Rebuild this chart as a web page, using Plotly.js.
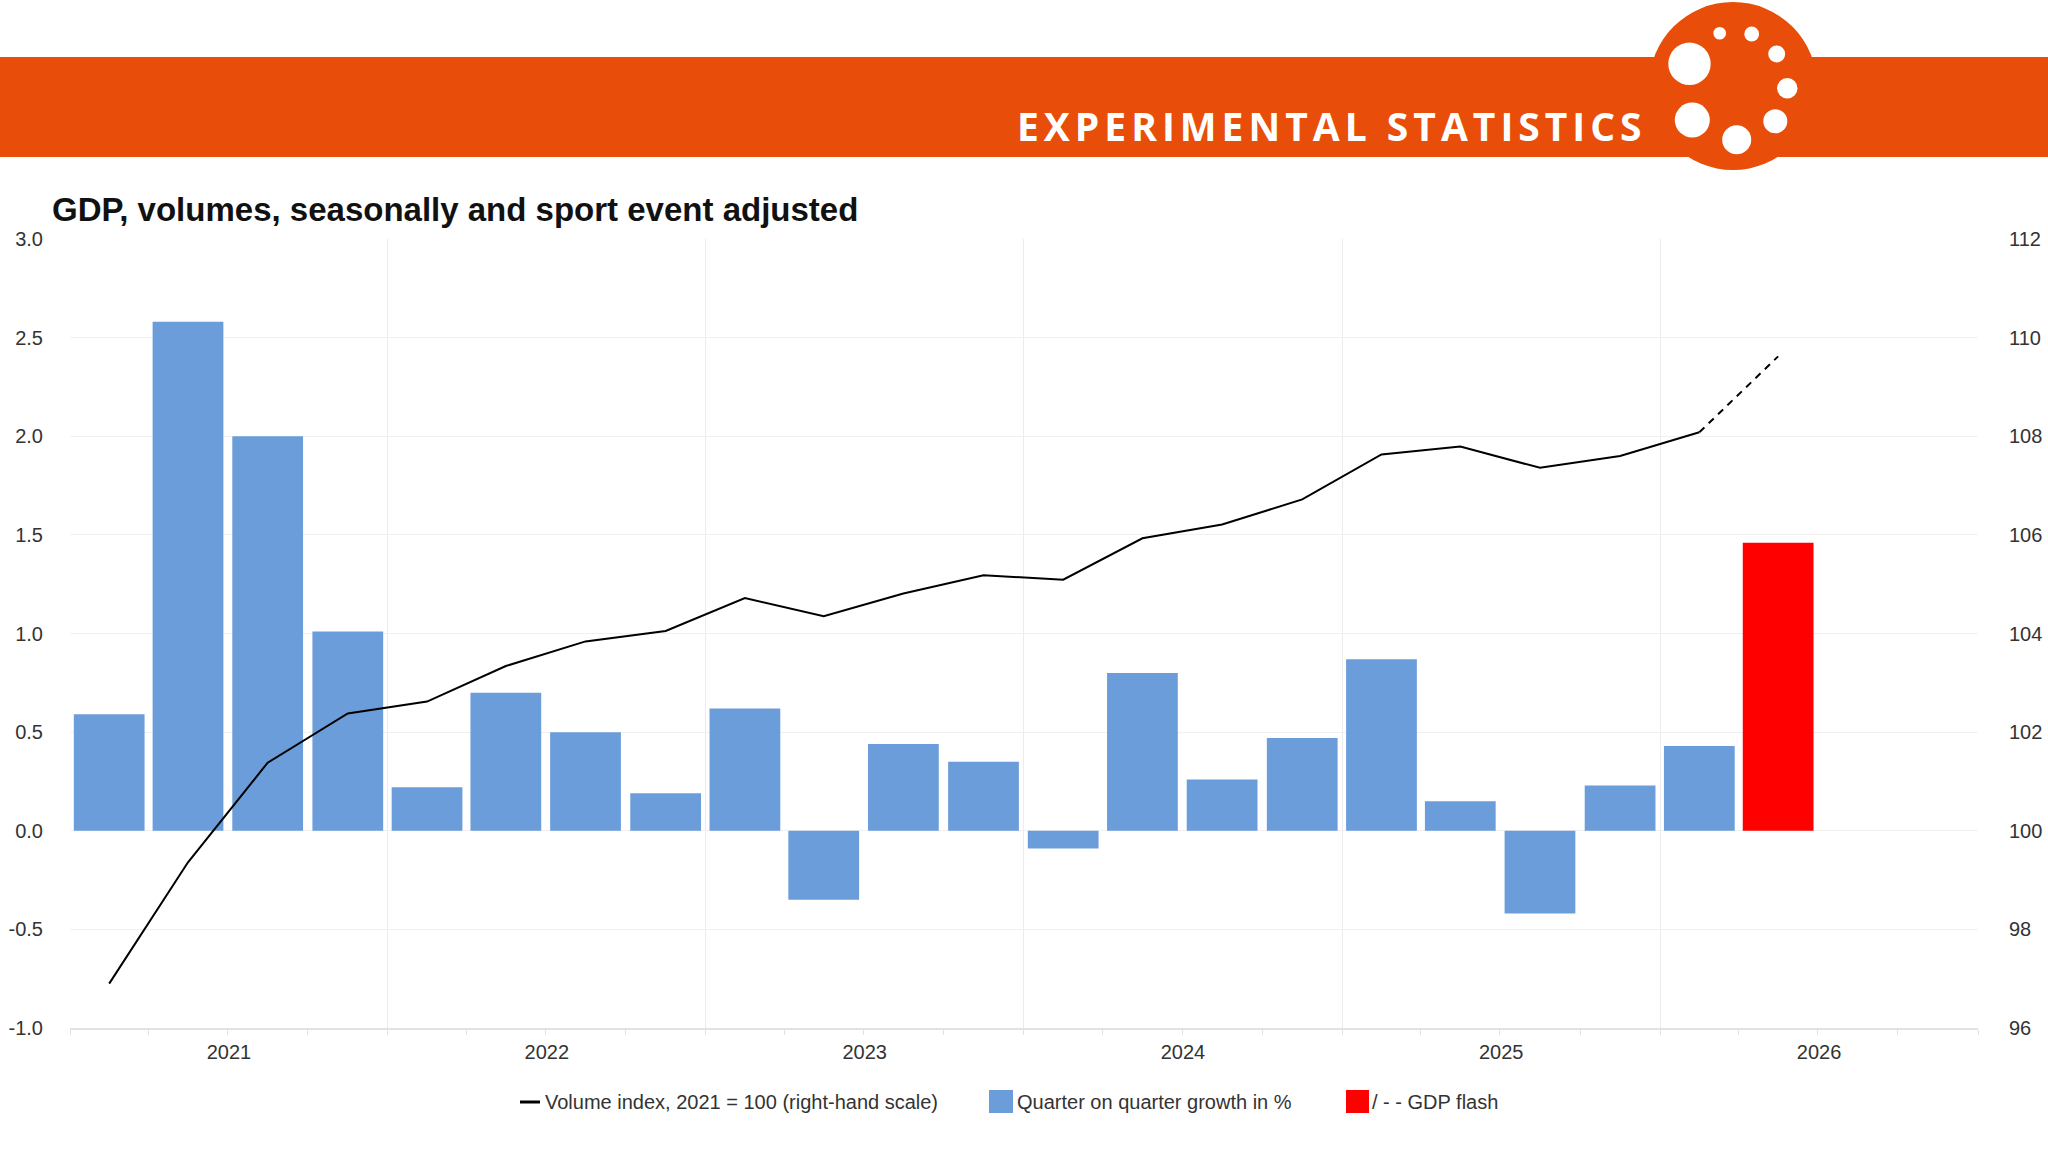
<!DOCTYPE html>
<html>
<head>
<meta charset="utf-8">
<script src="https://cdn.plot.ly/plotly-3.0.1.min.js"></script>
<style>
html,body{margin:0;padding:0;background:#ffffff;}
#chart{width:2048px;height:1152px;}
</style>
</head>
<body>
<div id="chart"></div>
<script>
// ---------------- data ----------------
const quarters = ['2021 Q1','2021 Q2','2021 Q3','2021 Q4',
                  '2022 Q1','2022 Q2','2022 Q3','2022 Q4',
                  '2023 Q1','2023 Q2','2023 Q3','2023 Q4',
                  '2024 Q1','2024 Q2','2024 Q3','2024 Q4',
                  '2025 Q1','2025 Q2','2025 Q3','2025 Q4',
                  '2026 Q1'];
const qoqGrowth = [0.59, 2.58, 2.00, 1.01,
                   0.22, 0.70, 0.50, 0.19,
                   0.62, -0.35, 0.44, 0.35,
                   -0.09, 0.80, 0.26, 0.47,
                   0.87, 0.15, -0.42, 0.23,
                   0.43];
const volumeIndex = [96.90, 99.36, 101.38, 102.38,
                     102.62, 103.34, 103.84, 104.05,
                     104.72, 104.35, 104.81, 105.18,
                     105.09, 105.93, 106.21, 106.72,
                     107.63, 107.79, 107.36, 107.60,
                     108.08];
const flashQuarter = '2026 Q2';
const flashGrowth = 1.46;
const flashIndex = 109.62;

const leftTickVals  = [-1, -0.5, 0, 0.5, 1, 1.5, 2, 2.5, 3];
const leftTickText  = ['-1.0','-0.5','0.0','0.5','1.0','1.5','2.0','2.5','3.0'];
const rightTickVals = [96, 98, 100, 102, 104, 106, 108, 110, 112];
const rightTickText = ['96','98','100','102','104','106','108','110','112'];

const chartTitle  = 'GDP, volumes, seasonally and sport event adjusted';
const bannerText  = 'EXPERIMENTAL STATISTICS';
const legendLine  = 'Volume index, 2021 = 100 (right-hand scale)';
const legendBars  = 'Quarter on quarter growth in %';
const legendFlash = '/ - - GDP flash';

// ---------------- helpers ----------------
const W = 2048, H = 1152;
const M = {l: 70, r: 70, t: 239, b: 124};
const PW = W - M.l - M.r, PH = H - M.t - M.b;
const px2x = px => (px - M.l) / PW;
const px2y = py => (H - M.b - py) / PH;

function quarterStart(label) {
  const y = parseInt(label.slice(0, 4), 10);
  const q = parseInt(label.slice(-1), 10);
  return Date.UTC(y, (q - 1) * 3, 1);
}
function quarterMid(label) {
  const s = quarterStart(label);
  const y = parseInt(label.slice(0, 4), 10);
  const q = parseInt(label.slice(-1), 10);
  const e = Date.UTC(q === 4 ? y + 1 : y, q === 4 ? 0 : q * 3, 1);
  return new Date((s + e) / 2).toISOString().slice(0, 19).replace('T', ' ');
}
const QUARTER_MS = 91.3 * 86400000;
const BAR_W = 0.89 * QUARTER_MS;

const xMain = quarters.map(quarterMid);
const xFlash = quarterMid(flashQuarter);

const BLUE = '#6b9dda';
const RED = '#ff0000';
const ORANGE = '#e84e0a';
const TXT = '#333333';
const FONT = 'Liberation Sans, Arial, sans-serif';

// ---------------- traces ----------------
const traces = [
  {type: 'bar', x: xMain, y: qoqGrowth, width: BAR_W, yaxis: 'y',
   marker: {color: BLUE}, name: legendBars, hoverinfo: 'skip'},
  {type: 'bar', x: [xFlash], y: [flashGrowth], width: BAR_W, yaxis: 'y',
   marker: {color: RED}, name: legendFlash, hoverinfo: 'skip'},
  {type: 'scatter', mode: 'lines', x: xMain, y: volumeIndex, yaxis: 'y2',
   line: {color: '#000000', width: 2}, name: legendLine, hoverinfo: 'skip'},
  {type: 'scatter', mode: 'lines', x: [xMain[xMain.length - 1], xFlash],
   y: [volumeIndex[volumeIndex.length - 1], flashIndex], yaxis: 'y2',
   line: {color: '#000000', width: 2, dash: '7px,6px'}, name: 'GDP flash', hoverinfo: 'skip'}
];

// ---------------- header shapes ----------------
const shapes = [];
function rectPx(x0, y0, x1, y1, color) {
  shapes.push({type: 'rect', xref: 'paper', yref: 'paper',
    x0: px2x(x0), x1: px2x(x1), y0: px2y(y1), y1: px2y(y0),
    fillcolor: color, line: {width: 0}, layer: 'above'});
}
function circlePx(cx, cy, r, color) {
  shapes.push({type: 'circle', xref: 'paper', yref: 'paper',
    x0: px2x(cx - r), x1: px2x(cx + r), y0: px2y(cy + r), y1: px2y(cy - r),
    fillcolor: color, line: {width: 0}, layer: 'above'});
}
rectPx(0, 57, W, 157, ORANGE);
circlePx(1733, 86, 84, ORANGE);
[[1689.5, 63.8, 21.2], [1719.7, 33.3, 6.3], [1751.7, 34, 7.4], [1776.7, 54, 8.5],
 [1787.3, 88.3, 10.2], [1775.3, 121.3, 12], [1736.7, 139.7, 14.5], [1692.3, 120, 17.5]]
  .forEach(d => circlePx(d[0], d[1], d[2], '#ffffff'));

// legend symbols
shapes.push({type: 'line', xref: 'paper', yref: 'paper',
  x0: px2x(520), x1: px2x(540), y0: px2y(1102), y1: px2y(1102),
  line: {color: '#000000', width: 3}});
rectPx(989, 1090, 1013, 1113, BLUE);
rectPx(1346, 1090, 1369, 1113, RED);

// ---------------- annotations ----------------
const annotations = [
  {xref: 'paper', yref: 'paper', x: px2x(1649), y: px2y(126), xanchor: 'right', yanchor: 'middle',
   showarrow: false,
   text: '<span style="letter-spacing:5px">' + bannerText + '</span>',
   font: {family: 'Open Sans, sans-serif', size: 39, color: '#ffffff', weight: 700}},
  {xref: 'paper', yref: 'paper', x: px2x(543), y: px2y(1102), xanchor: 'left', yanchor: 'middle',
   showarrow: false, text: legendLine, font: {family: FONT, size: 20, color: TXT}},
  {xref: 'paper', yref: 'paper', x: px2x(1015), y: px2y(1102), xanchor: 'left', yanchor: 'middle',
   showarrow: false, text: legendBars, font: {family: FONT, size: 20, color: TXT}},
  {xref: 'paper', yref: 'paper', x: px2x(1370), y: px2y(1102), xanchor: 'left', yanchor: 'middle',
   showarrow: false, text: legendFlash, font: {family: FONT, size: 20, color: TXT}}
];

// ---------------- layout ----------------
const layout = {
  width: W, height: H,
  margin: M,
  paper_bgcolor: '#ffffff', plot_bgcolor: '#ffffff',
  font: {family: FONT, color: TXT},
  showlegend: false,
  barmode: 'overlay',
  title: {text: chartTitle, xref: 'container', yref: 'container',
          x: 52 / W, xanchor: 'left', y: 1 - 209 / H, yanchor: 'middle',
          font: {family: FONT, size: 33, color: '#111111', weight: 700}},
  xaxis: {
    type: 'date',
    range: ['2021-01-01', '2027-01-01'],
    tick0: '2021-01-01', dtick: 'M12', tickformat: '%Y', ticklabelmode: 'period',
    showgrid: true, gridcolor: '#ececec', gridwidth: 1,
    ticks: 'outside', ticklen: 5, tickcolor: '#e2e2e2', tickwidth: 1,
    minor: {dtick: 'M3', ticks: 'outside', ticklen: 5, tickcolor: '#e2e2e2', showgrid: false},
    showline: true, linecolor: '#e2e2e2', linewidth: 2,
    zeroline: false,
    tickfont: {family: FONT, size: 20, color: TXT},
    fixedrange: true
  },
  yaxis: {
    range: [-1, 3], tickmode: 'array', tickvals: leftTickVals, ticktext: leftTickText,
    showgrid: true, gridcolor: '#f0f0f0', gridwidth: 1,
    zeroline: false, showline: false, ticks: '',
    ticklabelstandoff: 26,
    tickfont: {family: FONT, size: 20, color: TXT},
    fixedrange: true
  },
  yaxis2: {
    range: [96, 112], overlaying: 'y', side: 'right',
    tickmode: 'array', tickvals: rightTickVals, ticktext: rightTickText,
    showgrid: false, zeroline: false, showline: false, ticks: '',
    ticklabelstandoff: 30,
    tickfont: {family: FONT, size: 20, color: TXT},
    fixedrange: true
  },
  shapes: shapes,
  annotations: annotations
};

Plotly.newPlot('chart', traces, layout, {displayModeBar: false, staticPlot: true});
</script>
</body>
</html>
